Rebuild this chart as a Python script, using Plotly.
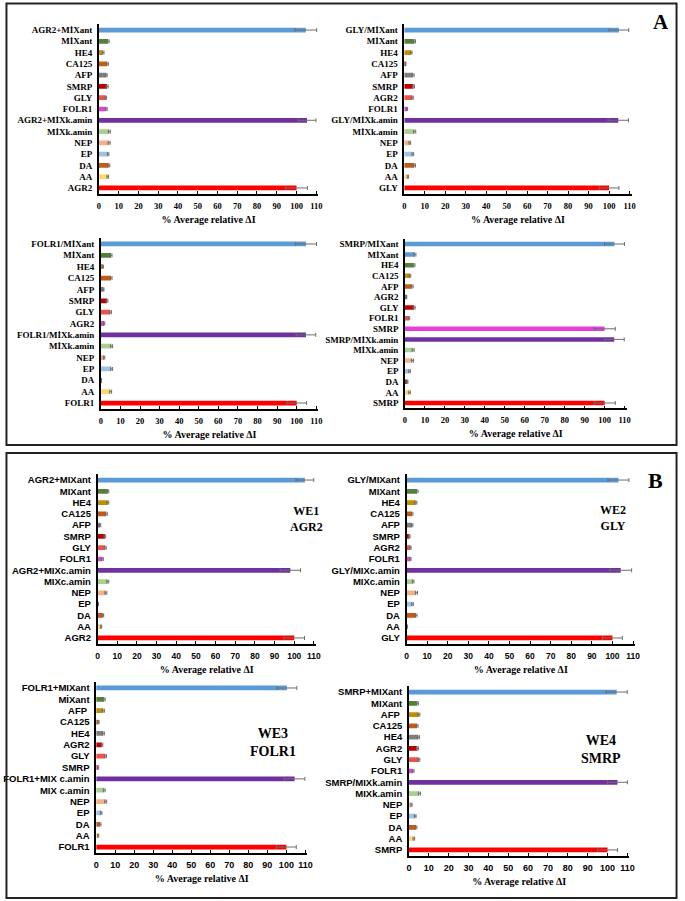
import plotly.graph_objects as go

W, H = 685, 901

# ---------------- colours (top-to-bottom order) ----------------
BLUE, GREEN, GOLD, ORANGE = "#5B9BD5", "#548235", "#BF9000", "#C55A11"
GRAY, DRED, CORAL, MAG = "#7F7F7F", "#C00000", "#F2504B", "#E33FD9"
PURPLE, LGREEN, PEACH, LBLUE = "#7030A0", "#A9D18E", "#F4B183", "#9DC3E6"
DBROWN, YELLOW, RED = "#843C0C", "#FFD966", "#FF0000"
std_colors = [BLUE, GREEN, GOLD, ORANGE, GRAY, DRED, CORAL, MAG, PURPLE,
              LGREEN, PEACH, LBLUE, ORANGE, YELLOW, RED]
smrp_colors = [BLUE, BLUE, GREEN, GOLD, ORANGE, GRAY, DRED, CORAL, MAG, PURPLE,
               LGREEN, PEACH, LBLUE, DBROWN, YELLOW, RED]

# ---------------- data (top-to-bottom) ----------------
a1_labels = ["AGR2+MİXant", "MİXant", "HE4", "CA125", "AFP", "SMRP", "GLY", "FOLR1",
             "AGR2+MİXk.amin", "MİXk.amin", "NEP", "EP", "DA", "AA", "AGR2"]
a1_values = [104.7, 4.7, 2.2, 4.3, 3.8, 4.2, 3.5, 3.8, 105.3, 5.3, 5.2, 4.7, 5.0, 4.5, 100]
a1_errors = [5.5, 0.5, 0.4, 0.5, 0.4, 0.5, 0.4, 0.4, 4.5, 0.5, 0.5, 0.4, 0.5, 0.4, 5.5]

a2_labels = ["GLY/MİXant", "MİXant", "HE4", "CA125", "AFP", "SMRP", "AGR2", "FOLR1",
             "GLY/MİXk.amin", "MİXk.amin", "NEP", "EP", "DA", "AA", "GLY"]
a2_values = [104.8, 5.0, 3.4, 0.5, 4.3, 4.5, 4.0, 1.3, 104.5, 5.1, 2.7, 4.2, 5.0, 1.8, 100]
a2_errors = [4.8, 0.5, 0.4, 0.2, 0.5, 0.5, 0.4, 0.3, 5.0, 0.5, 0.4, 0.4, 0.5, 0.3, 4.8]

a3_labels = ["FOLR1/MİXant", "MİXant", "HE4", "CA125", "AFP", "SMRP", "GLY", "AGR2",
             "FOLR1/MİXk.amin", "MİXk.amin", "NEP", "EP", "DA", "AA", "FOLR1"]
a3_values = [104.7, 5.2, 1.0, 5.2, 1.3, 3.2, 4.9, 1.7, 104.7, 5.5, 1.7, 5.5, 0.3, 5.0, 100]
a3_errors = [5.4, 0.5, 0.3, 0.5, 0.3, 0.4, 0.5, 0.3, 5.0, 0.5, 0.3, 0.5, 0.1, 0.5, 5.0]

a4_labels = ["SMRP/MİXant", "MİXant", "HE4", "CA125", "AFP", "AGR2", "GLY", "FOLR1", "SMRP",
             "SMRP/MİXk.amin", "MİXk.amin", "NEP", "EP", "DA", "AA", "SMRP"]
a4_values = [104.9, 5.0, 4.5, 2.5, 3.6, 0.7, 4.6, 2.0, 100, 104.8, 4.1, 3.8, 2.3, 1.2, 2.3, 100]
a4_errors = [5.0, 0.5, 0.5, 0.4, 0.5, 0.2, 0.5, 0.4, 5.3, 5.0, 0.5, 0.5, 0.4, 0.3, 0.4, 5.3]

b1_labels = ["AGR2+MIXant", "MIXant", "HE4", "CA125", "AFP", "SMRP", "GLY", "FOLR1",
             "AGR2+MIXc.amin", "MIXc.amin", "NEP", "EP", "DA", "AA", "AGR2"]
b1_values = [105.4, 5.2, 5.2, 4.4, 1.3, 3.7, 3.9, 2.5, 98.0, 5.2, 4.2, 0.3, 2.7, 1.8, 100]
b1_errors = [4.5, 0.5, 0.5, 0.5, 0.3, 0.4, 0.5, 0.4, 5.2, 0.5, 0.5, 0.1, 0.4, 0.3, 5.2]

b2_labels = ["GLY/MIXant", "MIXant", "HE4", "CA125", "AFP", "SMRP", "AGR2", "FOLR1",
             "GLY/MIXc.amin", "MIXc.amin", "NEP", "EP", "DA", "AA", "GLY"]
b2_values = [102.9, 5.1, 4.5, 2.7, 2.7, 1.4, 1.9, 1.9, 104.0, 3.2, 4.8, 2.9, 4.6, 0.3, 100]
b2_errors = [5.1, 0.5, 0.5, 0.4, 0.4, 0.3, 0.3, 0.3, 5.3, 0.4, 0.5, 0.4, 0.5, 0.1, 4.8]

b3_labels = ["FOLR1+MIXant", "MİXant", "AFP ", "CA125", "HE4", "AGR2", "GLY", "SMRP",
             "FOLR1+MIX c.amin", "MIX c.amin", "NEP", "EP", "DA", "AA", "FOLR1"]
b3_values = [100.3, 4.2, 3.8, 1.2, 3.8, 3.1, 4.9, 1.0, 104.3, 4.2, 5.0, 2.6, 2.1, 1.0, 100]
b3_errors = [5.2, 0.5, 0.5, 0.3, 0.5, 0.4, 0.5, 0.3, 5.4, 0.5, 0.5, 0.4, 0.4, 0.3, 5.2]

b4_labels = ["SMRP+MIXant", "MIXant", "AFP ", "CA125", "HE4", "AGR2", "GLY", "FOLR1",
             "SMRP/MIXk.amin", "MIXk.amin", "NEP", "EP", "DA", "AA", "SMRP"]
b4_values = [104.6, 4.3, 5.0, 4.1, 4.8, 4.3, 5.0, 2.2, 105.0, 5.3, 1.3, 3.2, 3.6, 2.5, 100]
b4_errors = [5.3, 0.5, 0.5, 0.5, 0.5, 0.5, 0.5, 0.4, 5.0, 0.5, 0.3, 0.4, 0.4, 0.4, 5.0]

x_ticks = [0, 10, 20, 30, 40, 50, 60, 70, 80, 90, 100, 110]
x_title = "% Average relative ΔI"

SERIF = "Liberation Serif"
SANS = "Liberation Sans"

# (labels, values, errors, colors, box px (x0, x1, ytop, ybot), label font, tick font, label size, tick size)
panels = [
    (a1_labels, a1_values, a1_errors, std_colors, (97, 319, 24.4, 193.6), SERIF, SERIF, 9, 8.5),
    (a2_labels, a2_values, a2_errors, std_colors, (406, 636, 24.4, 193.6), SERIF, SERIF, 9, 8.5),
    (a3_labels, a3_values, a3_errors, std_colors, (99, 319, 238.3, 408.7), SERIF, SERIF, 9, 8.5),
    (a4_labels, a4_values, a4_errors, smrp_colors, (406.7, 631, 238.7, 408.3), SERIF, SERIF, 9, 8.5),
    (b1_labels, b1_values, b1_errors, std_colors, (95.7, 316.6, 474.4, 643.6), SANS, SANS, 9.5, 8.5),
    (b2_labels, b2_values, b2_errors, std_colors, (408.3, 639.6, 474.4, 643.6), SANS, SANS, 9.5, 8.5),
    (b3_labels, b3_values, b3_errors, std_colors, (94.3, 307.9, 682.3, 852.7), SANS, SANS, 9.5, 9),
    (b4_labels, b4_values, b4_errors, std_colors, (410.7, 633.8, 686.4, 855.6), SANS, SANS, 9.5, 9),
]

fig = go.Figure()
layout = dict(
    width=W, height=H, margin=dict(l=0, r=0, t=0, b=0),
    paper_bgcolor="white", plot_bgcolor="white", showlegend=False,
    bargap=0.58,
)

for i, (labels, vals, errs, cols, box, lfont, tfont, lsize, tsize) in enumerate(panels, start=1):
    n = len(labels)
    idx = list(range(n))
    xa = "x" if i == 1 else f"x{i}"
    ya = "y" if i == 1 else f"y{i}"
    fig.add_trace(go.Bar(
        x=vals, y=idx, orientation="h", xaxis=xa, yaxis=ya,
        marker=dict(color=cols, line=dict(width=0)),
        error_x=dict(type="data", array=errs, color="#6E6E6E", thickness=1, width=2),
        width=0.42,
    ))
    x0, x1, yt, yb = box
    xkey = "xaxis" if i == 1 else f"xaxis{i}"
    ykey = "yaxis" if i == 1 else f"yaxis{i}"
    layout[xkey] = dict(
        domain=[x0 / W, x1 / W], anchor=ya, range=[0, 111],
        tickmode="array", tickvals=x_ticks, ticktext=[str(t) for t in x_ticks],
        showline=True, linecolor="black", linewidth=1.5,
        ticks="inside", ticklen=3, tickcolor="black", tickwidth=1,
        showgrid=False, zeroline=False,
        tickfont=dict(family=tfont, size=tsize, color="black", weight="bold"),
        ticklabelstandoff=3,
        title=dict(text=x_title, standoff=6,
                   font=dict(family=SERIF, size=10, color="black", weight="bold")),
    )
    layout[ykey] = dict(
        domain=[1 - yb / H, 1 - yt / H], anchor=xa,
        range=[n - 0.5, -0.5], tickmode="array", tickvals=idx, ticktext=labels,
        showline=True, linecolor="black", linewidth=1.5,
        ticks="", showgrid=False, zeroline=False, ticklabelstandoff=3,
        tickfont=dict(family=lfont, size=lsize, color="black", weight="bold"),
    )

# frames
shapes = [
    dict(type="rect", xref="paper", yref="paper", x0=3.5 / W, x1=681.5 / W,
         y0=1 - 445 / H, y1=1 - 3.5 / H, line=dict(color="#222", width=2)),
    dict(type="rect", xref="paper", yref="paper", x0=3.5 / W, x1=681.5 / W,
         y0=1 - 898 / H, y1=1 - 453 / H, line=dict(color="#222", width=2)),
]
layout["shapes"] = shapes

def ann(text, xp, yp, size):
    return dict(text=text, x=xp / W, y=1 - yp / H, xref="paper", yref="paper",
                showarrow=False, xanchor="center", yanchor="middle",
                font=dict(family=SERIF, size=size, color="black", weight="bold"))

layout["annotations"] = [
    ann("A", 666, 22, 21),
    ann("B", 660, 480, 22),
    ann("WE1<br>AGR2", 307, 519, 12),
    ann("WE2<br>GLY", 617, 518, 12),
    ann("WE3<br>FOLR1", 273, 742, 14),
    ann("WE4<br>SMRP", 605, 749, 14),
]

fig.update_layout(**layout)
fig.write_html("out.html")
